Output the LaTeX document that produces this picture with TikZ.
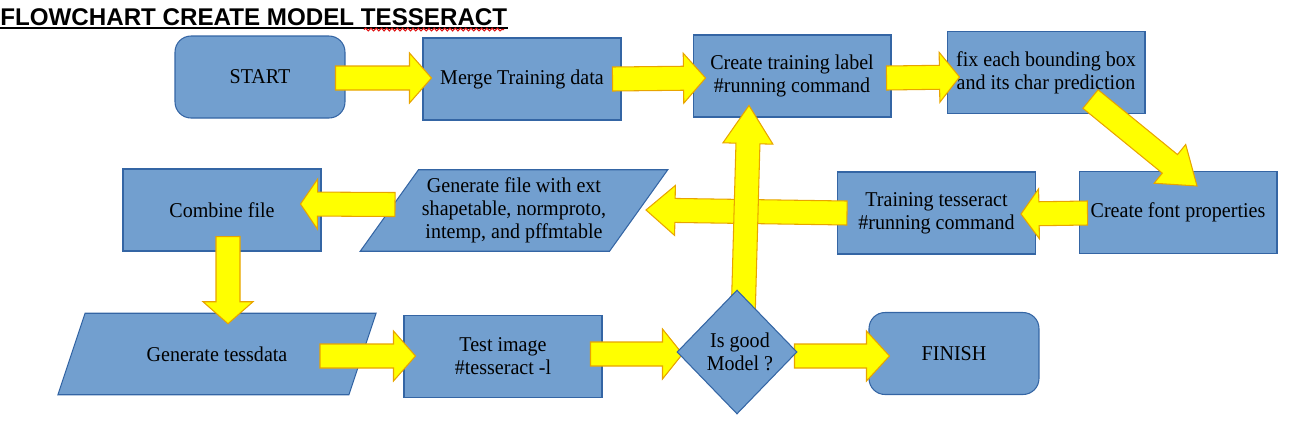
\documentclass[tikz,border=0pt]{standalone}
\usepackage{fontspec}
\setmainfont{Liberation Serif}[FakeStretch=0.95]
\newfontfamily\titlefont{Liberation Sans}
\usepackage{tikz}
\usetikzlibrary{calc,shapes.geometric,decorations.pathmorphing}
\definecolor{boxfill}{HTML}{729FCF}
\definecolor{boxline}{HTML}{3465A4}
\definecolor{arrowfill}{HTML}{FFFF00}
\definecolor{arrowline}{HTML}{E8A400}
\definecolor{spellred}{HTML}{E01010}
\pgfdeclarelayer{front}
\pgfsetlayers{main,front}
\tikzset{
  procbox/.style={rectangle, fill=boxfill, draw=boxline, line width=0.6pt, minimum width=3.96cm, minimum height=1.64cm, inner sep=0pt, align=center, font=\fontsize{12}{13}\selectfont},
  termbox/.style={procbox, rounded corners=0.32cm, minimum width=3.4cm},
  databox/.style={procbox, trapezium, trapezium stretches=true, minimum height=1.63cm},
  decisionbox/.style={procbox, diamond, minimum width=2.4cm, minimum height=2.48cm},
  blockarrow/.style={fill=arrowfill, draw=arrowline, line width=0.6pt, line join=miter},
  titletext/.style={anchor=base west, inner sep=0pt, font=\titlefont\bfseries\fontsize{13.75}{16}\selectfont},
  spellmark/.style={draw=spellred, line width=0.6pt, decorate, decoration={snake, amplitude=0.8pt, segment length=3pt}},
}
% block arrow: [head length]{tail}{tip}
\newcommand\flowarrow[3][0.44cm]{%
  \coordinate (hb) at ($(#3)!#1!(#2)$);
  \filldraw[blockarrow] ($(#2)!0.24cm!90:(#3)$) -- ($(hb)!0.24cm!90:(#3)$)
    -- ($(hb)!0.5cm!90:(#3)$) -- (#3) -- ($(hb)!0.5cm!-90:(#3)$)
    -- ($(hb)!0.24cm!-90:(#3)$) -- ($(#2)!0.24cm!-90:(#3)$) -- cycle;
}

\begin{document}
\begin{tikzpicture}[x=0.02cm, y=-0.02cm]
  \useasboundingbox (0,0) rectangle (1295,424);
  \node[titletext] (title) at (0,25) {FLOWCHART CREATE MODEL TESSERACT};
  \draw[line width=1.1pt] ($(title.base west)+(0,3)$) -- ($(title.base east)+(0,3)$);
  \draw[spellmark] (364,29.5) -- (504,29.5);

  % boxes
  \node[termbox] (start) at (260,77) {START};
  \node[procbox] (merge) at (522,79) {Merge Training data};
  \node[procbox] (label) at (792,76) {Create training label\\\#running command};
  \node[procbox] (fixbox) at (1046,72.5) {fix each bounding box\\and its char prediction};
  \node[procbox] (fontprop) at (1178,212.5) {Create font properties};
  \node[procbox] (train) at (936.5,213) {Training tesseract\\\#running command};
  \node[databox, trapezium left angle=49.2, trapezium right angle=130.8, minimum width=6.16cm] (genfile) at (514,210.5) {Generate file with ext\\shapetable, normproto,\\intemp, and pffmtable};
  \node[procbox] (combine) at (222,210) {Combine file};
  \node[databox, trapezium left angle=45.7, trapezium right angle=134.3, minimum width=6.4cm] (gentess) at (217,354) {Generate tessdata};
  \node[procbox] (test) at (503,356.5) {Test image\\\#tesseract -l};
  \begin{pgfonlayer}{front}
    \node[decisionbox] (good) at (737,352) {\hspace*{0.12cm}Is good\\\hspace*{0.12cm}Model ?};
  \end{pgfonlayer}
  \node[termbox] (finish) at (954,353.5) {FINISH};

  % arrow ends
  \coordinate (a1) at ($(start.east)+(-10,1)$);
  \coordinate (b1) at ($(merge.west)+(9,-1)$);
  \coordinate (a2) at ($(merge.east)+(-9,0)$);
  \coordinate (b2) at ($(label.west)+(13,2)$);
  \coordinate (a3) at ($(label.east)+(-5,2)$);
  \coordinate (b3) at ($(fixbox.west)+(13,4.5)$);
  \coordinate (a4) at ($(fixbox.south east)+(-55,-15)$);
  \coordinate (b4) at ($(fontprop.north)+(19,15)$);
  \coordinate (a5) at ($(fontprop.west)+(9,0.5)$);
  \coordinate (b5) at ($(train.east)+(-15,1)$);
  \coordinate (a6) at ($(train.west)+(10,0)$);
  \coordinate (b6) at ($(genfile.center)+(132,-0.5)$);
  \coordinate (a7) at ($(genfile.center)+(-119,-6)$);
  \coordinate (b7) at ($(combine.east)+(-21,-6)$);
  \coordinate (a8) at ($(combine.south)+(6,-15)$);
  \coordinate (b8) at ($(gentess.north)+(11,11)$);
  \coordinate (a9) at ($(gentess.center)+(103,2)$);
  \coordinate (b9) at ($(test.west)+(12,-0.5)$);
  \coordinate (a10) at ($(test.east)+(-12,-2.5)$);
  \coordinate (b10) at ($(good.west)+(6,2)$);
  \coordinate (a11) at ($(good.east)+(-3,4)$);
  \coordinate (b11) at ($(finish.west)+(21,2.5)$);
  \coordinate (a12) at ($(good.north)+(6,32)$);
  \coordinate (b12) at ($(label.south)+(-43,-12)$);

  % arrows
  \flowarrow{a1}{b1}
  \flowarrow{a2}{b2}
  \flowarrow[0.4cm]{a3}{b3}
  \flowarrow[0.7cm]{a4}{b4}
  \flowarrow[0.36cm]{a5}{b5}
  \flowarrow[0.58cm]{a6}{b6}
  \flowarrow[0.34cm]{a7}{b7}
  \flowarrow{a8}{b8}
  \flowarrow{a9}{b9}
  \flowarrow[0.4cm]{a10}{b10}
  \flowarrow[0.46cm]{a11}{b11}
  \flowarrow[0.76cm]{a12}{b12}
\end{tikzpicture}
\end{document}
